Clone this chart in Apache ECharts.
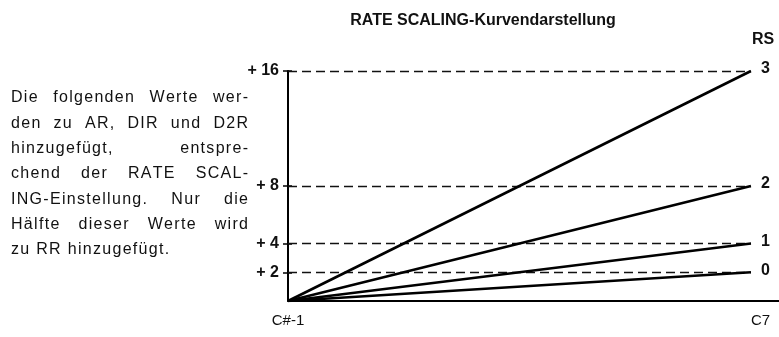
<!DOCTYPE html>
<html>
<head>
<meta charset="utf-8">
<script src="https://cdn.jsdelivr.net/npm/echarts@6/dist/echarts.min.js"></script>
<style>
  html, body { margin: 0; padding: 0; background: #fff; }
  #chart { width: 779px; height: 337px; }
</style>
</head>
<body>
<div id="chart"></div>
<script>
// Keyboard range endpoints on the horizontal axis
const keyRange = ['C#-1', 'C7'];
// RATE SCALING settings and the value each one adds at the top key
const rsSettings = ['0', '1', '2', '3'];
const rsTopValues = [2, 4, 8, 16];
// Rate offset at the lowest key (same for every setting)
const rsBottomValue = 0;
// Vertical axis ticks and their printed labels
const yTickValues = [2, 4, 8, 16];
const yTickLabels = ['+ 2', '+ 4', '+ 8', '+ 16'];
// Explanatory note, as typeset
const noteLines = [
  'Die folgenden Werte wer-',
  'den zu AR, DIR und D2R',
  'hinzugefügt, entspre-',
  'chend der RATE SCAL-',
  'ING-Einstellung. Nur die',
  'Hälfte dieser Werte wird',
  'zu RR hinzugefügt.'
];

const FONT = '"Liberation Sans", Arial, Helvetica, sans-serif';
const chart = echarts.init(document.getElementById('chart'), null, { renderer: 'canvas' });

// Justified, letter-spaced note: every glyph is placed on its own so the
// tracking and the word gaps can be set per line
const noteFontSize = 16;
const noteFont = noteFontSize + 'px ' + FONT;
const measureCtx = document.createElement('canvas').getContext('2d');
measureCtx.font = noteFont;
const tracking = 1.3;
const noteLeft = 11, noteRight = 248, noteTop = 98, noteLeading = 25.3;
const noteGraphics = [];
noteLines.forEach((line, i) => {
  const words = line.split(' ');
  const y = noteTop + i * noteLeading;
  const isLast = i === noteLines.length - 1;
  const wordWidths = words.map(w =>
    Array.from(w).reduce((s, ch) => s + measureCtx.measureText(ch).width, 0) + (w.length - 1) * tracking);
  const total = wordWidths.reduce((a, b) => a + b, 0);
  const gap = (isLast || words.length < 2)
    ? measureCtx.measureText(' ').width + 2 * tracking
    : (noteRight - noteLeft - total) / (words.length - 1);
  let x = noteLeft;
  words.forEach((w, k) => {
    let cx = x;
    Array.from(w).forEach(ch => {
      noteGraphics.push({
        type: 'text', x: cx, y: y, silent: true,
        style: { text: ch, font: noteFont, fill: '#111', textVerticalAlign: 'middle' }
      });
      cx += measureCtx.measureText(ch).width + tracking;
    });
    x += wordWidths[k] + gap;
  });
});

const xEnd = 1;
const series = rsSettings.map((rs, i) => ({
  type: 'line',
  name: 'RS ' + rs,
  data: [[0, rsBottomValue], [xEnd, rsTopValues[i]]],
  symbol: 'none',
  lineStyle: { color: '#000', width: 2.6 },
  z: 3,
  endLabel: {
    show: true,
    formatter: () => rs,
    color: '#111',
    fontFamily: FONT,
    fontSize: 16,
    fontWeight: 'bold',
    distance: 10,
    offset: [0, -2]
  },
  markLine: {
    silent: true,
    symbol: 'none',
    z: 1,
    label: { show: false },
    lineStyle: { color: '#111', width: 1.3, type: [9, 5] },
    data: [[{ coord: [0, rsTopValues[i]] }, { coord: [xEnd, rsTopValues[i]] }]]
  }
}));

const option = {
  animation: false,
  backgroundColor: '#fff',
  title: {
    text: 'RATE SCALING-Kurvendarstellung',
    left: 478,
    top: 8,
    textAlign: 'center',
    textStyle: { fontFamily: FONT, fontSize: 16, fontWeight: 'bold', color: '#111' }
  },
  grid: { left: 288, right: 0, top: 71, bottom: 36 },
  xAxis: {
    type: 'value',
    min: 0,
    max: 1.0606,
    axisLine: { show: true, lineStyle: { color: '#000', width: 2 } },
    axisTick: { show: false },
    splitLine: { show: false },
    axisLabel: {
      customValues: [0, xEnd],
      formatter: v => (v === 0 ? keyRange[0] : keyRange[1]),
      alignMaxLabel: 'left',
      color: '#111',
      fontFamily: FONT,
      fontSize: 15,
      margin: 12
    }
  },
  yAxis: [
    {
      type: 'value',
      min: 0,
      max: 16,
      axisLine: { show: true, lineStyle: { color: '#000', width: 2 } },
      axisTick: { show: true, customValues: yTickValues, length: 5, lineStyle: { color: '#000', width: 1.5 } },
      splitLine: { show: false },
      axisLabel: {
        customValues: yTickValues,
        formatter: v => yTickLabels[yTickValues.indexOf(v)],
        color: '#111',
        fontFamily: FONT,
        fontSize: 16,
        fontWeight: 'bold',
        margin: 9
      }
    },
    {
      type: 'value',
      min: 0,
      max: 16,
      position: 'left',
      axisLine: { show: false },
      axisTick: { show: true, inside: true, customValues: yTickValues, length: 4, lineStyle: { color: '#000', width: 1.5 } },
      axisLabel: { show: false },
      splitLine: { show: false }
    }
  ],
  graphic: [
    {
      type: 'text', x: 763, y: 40,
      style: { text: 'RS', font: 'bold 16px ' + FONT, fill: '#111', textAlign: 'center', textVerticalAlign: 'middle' }
    }
  ].concat(noteGraphics),
  series: series
};

chart.setOption(option);
</script>
</body>
</html>
